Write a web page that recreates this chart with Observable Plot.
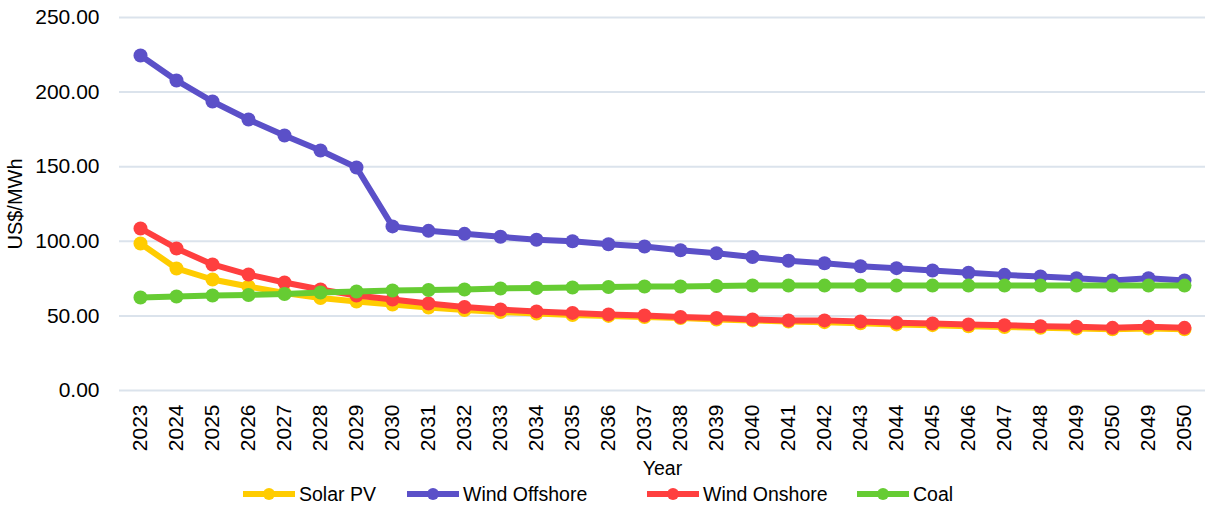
<!DOCTYPE html>
<html>
<head>
<meta charset="utf-8">
<script src="https://cdn.jsdelivr.net/npm/d3@7"></script>
<script src="https://cdn.jsdelivr.net/npm/@observablehq/plot@0.6"></script>
<style>
  html, body { margin: 0; padding: 0; background: #fff; }
  body { font-family: "Liberation Sans", Arial, sans-serif; width: 1205px; height: 506px; overflow: hidden; }
  #legend { position: relative; width: 1205px; height: 24px; font-size: 19.5px; color: #000; }
  .item { position: absolute; top: 0; height: 24px; display: flex; align-items: center; white-space: nowrap; }
  .item svg { margin-right: 4px; }
</style>
</head>
<body>
<div id="chart"></div>
<div id="legend"></div>
<script>
const yearLabels = ["2023","2024","2025","2026","2027","2028","2029","2030","2031","2032","2033","2034","2035","2036","2037","2038","2039","2040","2041","2042","2043","2044","2045","2046","2047","2048","2049","2050","2049","2050"];
const solarPV      = [98.5,81.8,74.4,69.7,65.3,62.0,59.7,57.6,55.6,54.0,52.6,51.6,50.6,50.0,49.3,48.6,47.6,47.0,46.2,45.8,45.0,44.3,43.8,43.0,42.6,42.0,41.5,41.0,41.5,41.0];
const windOffshore = [224.5,207.8,193.7,181.6,170.9,160.9,149.5,110.0,107.0,105.0,103.0,101.0,100.0,98.0,96.5,94.0,92.0,89.5,87.0,85.3,83.3,82.0,80.4,78.9,77.5,76.4,75.3,73.7,75.3,73.7];
const windOnshore  = [108.6,95.2,84.5,77.7,72.4,67.7,63.7,61.0,58.3,56.0,54.3,53.0,52.0,51.0,50.3,49.3,48.6,47.6,47.0,47.0,46.2,45.4,44.9,44.2,43.8,43.1,42.7,42.0,42.7,42.0];
const coal         = [62.3,63.0,63.7,64.0,64.7,65.7,66.4,67.0,67.4,67.7,68.4,68.7,69.0,69.4,69.7,69.7,70.0,70.4,70.4,70.3,70.3,70.3,70.3,70.3,70.3,70.3,70.3,70.3,70.3,70.3];
const seriesNames  = ["Solar PV","Wind Offshore","Wind Onshore","Coal"];
const seriesValues = [solarPV, windOffshore, windOnshore, coal];
const seriesColors = ["#FFCC00","#5B50C8","#FF3F3F","#66CC33"];
const yTicks = [0,50,100,150,200,250];

const idx = yearLabels.map((_, i) => i);
const marks = [
  Plot.ruleY(yTicks, {stroke: "#dbe3ec", strokeWidth: 2})
];
seriesValues.forEach((vals, s) => {
  const data = vals.map((v, i) => ({i, v}));
  marks.push(Plot.line(data, {x: "i", y: "v", stroke: seriesColors[s], strokeWidth: 6, strokeLinejoin: "round"}));
  marks.push(Plot.dot(data, {x: "i", y: "v", fill: seriesColors[s], r: 7, stroke: "none"}));
});
marks.push(Plot.axisY({ticks: yTicks, tickFormat: d3.format(".2f"), tickSize: 0, tickPadding: 20, label: null, fontSize: 21}));
marks.push(Plot.axisX({tickFormat: i => yearLabels[i], tickRotate: -90, tickSize: 0, tickPadding: 14, label: null, fontSize: 21}));
marks.push(Plot.text(["Year"], {frameAnchor: "bottom", dy: 84, fontSize: 19.5, fill: "#000"}));
marks.push(Plot.text(["US$/MWh"], {frameAnchor: "left", textAnchor: "middle", dx: -104, rotate: -90, fontSize: 20, fill: "#000"}));

const chart = Plot.plot({
  width: 1205,
  height: 482,
  marginTop: 17,
  marginBottom: 92,
  marginLeft: 119,
  marginRight: 0,
  style: {fontFamily: '"Liberation Sans", Arial, sans-serif', color: "#000", background: "#fff", overflow: "visible"},
  x: {type: "point", domain: idx, padding: 0.49},
  y: {domain: [0, 250]},
  marks
});
document.getElementById("chart").appendChild(chart);

const legendPos = [243, 407, 647, 857];
const legend = document.getElementById("legend");
seriesNames.forEach((name, s) => {
  const item = document.createElement("div");
  item.className = "item";
  item.style.left = legendPos[s] + "px";
  item.innerHTML = `<svg width="52" height="14"><line x1="0" y1="7" x2="52" y2="7" stroke="${seriesColors[s]}" stroke-width="6"/><circle cx="26" cy="7" r="6" fill="${seriesColors[s]}"/></svg><span>${name}</span>`;
  legend.appendChild(item);
});
</script>
</body>
</html>
